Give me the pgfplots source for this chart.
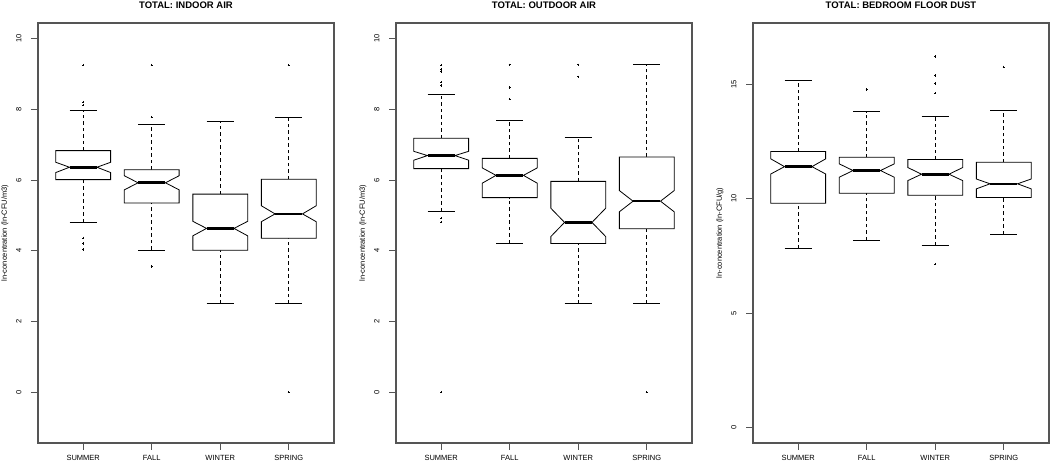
\documentclass[border=0pt]{standalone}
\usepackage{fontspec}
\setmainfont{Liberation Sans}
\usepackage{pgfplots}
\pgfplotsset{compat=1.18}

\definecolor{frame}{HTML}{555555}

\pgfplotsset{
  boxline/.style={black, line width=0.8pt, mark=none},
  whisk/.style={black, line width=0.8pt, dash pattern=on 3.5pt off 3pt, mark=none},
  median/.style={black, line width=2.6pt, mark=none},
  outl/.style={only marks, mark=+, mark size=1.2pt, black, mark options={line width=0.7pt}},
  panel/.style={
    scale only axis, width=296pt, height=420pt,
    anchor=south west,
    xmin=0.34, xmax=4.66,
    xtick={1,2,3,4}, xticklabels={SUMMER,FALL,WINTER,SPRING},
    tick pos=left, tick align=outside,
    major tick length=7pt,
    tick style={frame, line width=0.8pt},
    axis line style={frame, line width=1.1pt},
    ticklabel style={font=\fontsize{7.5}{9}\selectfont},
    /pgf/number format/assume math mode=true,
    yticklabel style={rotate=90, anchor=south},
    yticklabel shift=6pt,
    xticklabel style={anchor=base},
    xticklabel shift=11pt,
    title style={font=\bfseries\fontsize{9.5}{11}\selectfont, at={(0.5,1)}, anchor=base, yshift=8pt},
    label style={font=\fontsize{7.5}{9}\selectfont},
    ylabel style={at={(axis description cs:-0.112,0.5)}, anchor=center},
  },
}

% x, whisker low, q1, notch low, median, notch high, q3, whisker high
\newcommand{\nbox}[8]{%
  \pgfmathsetmacro\xa{#1-0.4}%
  \pgfmathsetmacro\xb{#1+0.4}%
  \pgfmathsetmacro\xc{#1-0.2}%
  \pgfmathsetmacro\xd{#1+0.2}%
  \addplot[whisk] coordinates {(#1,#2) (#1,#3)};
  \addplot[whisk] coordinates {(#1,#7) (#1,#8)};
  \addplot[boxline] coordinates {(\xc,#2) (\xd,#2)};
  \addplot[boxline] coordinates {(\xc,#8) (\xd,#8)};
  \addplot[boxline, fill=white] coordinates {(\xa,#3) (\xb,#3) (\xb,#4) (\xd,#5) (\xb,#6) (\xb,#7) (\xa,#7) (\xa,#6) (\xc,#5) (\xa,#4) (\xa,#3)} -- cycle;
  \addplot[median] coordinates {(\xc,#5) (\xd,#5)};
}

\begin{document}
\begin{tikzpicture}
\path[use as bounding box] (0,0) rectangle (1050pt,462pt);

% indoor air
\begin{axis}[panel, at={(38pt,19pt)},
  ymin=-1.44, ymax=10.44, ytick={0,2,4,6,8,10},
  title={TOTAL: INDOOR AIR},
  ylabel={ln-concentration (ln-CFU/m3)}]
\nbox{1}{4.80}{6.01}{6.21}{6.36}{6.50}{6.83}{7.98}
\nbox{2}{4.02}{5.35}{5.72}{5.92}{6.12}{6.29}{7.58}
\nbox{3}{2.50}{4.01}{4.42}{4.63}{4.83}{5.60}{7.67}
\nbox{4}{2.50}{4.35}{4.82}{5.04}{5.27}{6.02}{7.76}
\addplot[outl] coordinates {(1,9.25) (1,8.20) (1,8.12) (1,4.36) (1,4.20) (1,4.03)
  (2,9.25) (2,7.78) (2,3.55) (4,9.25) (4,0)};
\end{axis}

% outdoor air
\begin{axis}[panel, at={(396pt,19pt)},
  ymin=-1.44, ymax=10.44, ytick={0,2,4,6,8,10},
  title={TOTAL: OUTDOOR AIR},
  ylabel={ln-concentration (ln-CFU/m3)}]
\nbox{1}{5.11}{6.32}{6.56}{6.69}{6.81}{7.18}{8.42}
\nbox{2}{4.21}{5.50}{5.91}{6.13}{6.34}{6.61}{7.68}
\nbox{3}{2.50}{4.20}{4.40}{4.80}{5.20}{5.96}{7.20}
\nbox{4}{2.50}{4.62}{5.10}{5.40}{5.70}{6.65}{9.26}
\addplot[outl] coordinates {(1,9.25) (1,9.14) (1,9.07) (1,8.77) (1,8.67) (1,4.92) (1,4.81) (1,0)
  (2,9.26) (2,8.62) (2,8.29) (3,9.26) (3,8.92) (4,0)};
\end{axis}

% bedroom floor dust
\begin{axis}[panel, at={(753pt,19pt)},
  ymin=-0.68, ymax=17.68, ytick={0,5,10,15},
  title={TOTAL: BEDROOM FLOOR DUST},
  ylabel={ln-concentration (ln-CFU/g)}]
\nbox{1}{7.83}{9.80}{11.08}{11.40}{11.74}{12.06}{15.17}
\nbox{2}{8.18}{10.24}{10.94}{11.23}{11.52}{11.81}{13.80}
\nbox{3}{7.97}{10.15}{10.79}{11.07}{11.36}{11.71}{13.59}
\nbox{4}{8.45}{10.05}{10.43}{10.65}{10.86}{11.59}{13.88}
\addplot[outl] coordinates {(2,14.78) (3,16.21) (3,15.39) (3,15.04) (3,14.61) (3,7.14) (4,15.76)};
\end{axis}
\end{tikzpicture}
\end{document}
